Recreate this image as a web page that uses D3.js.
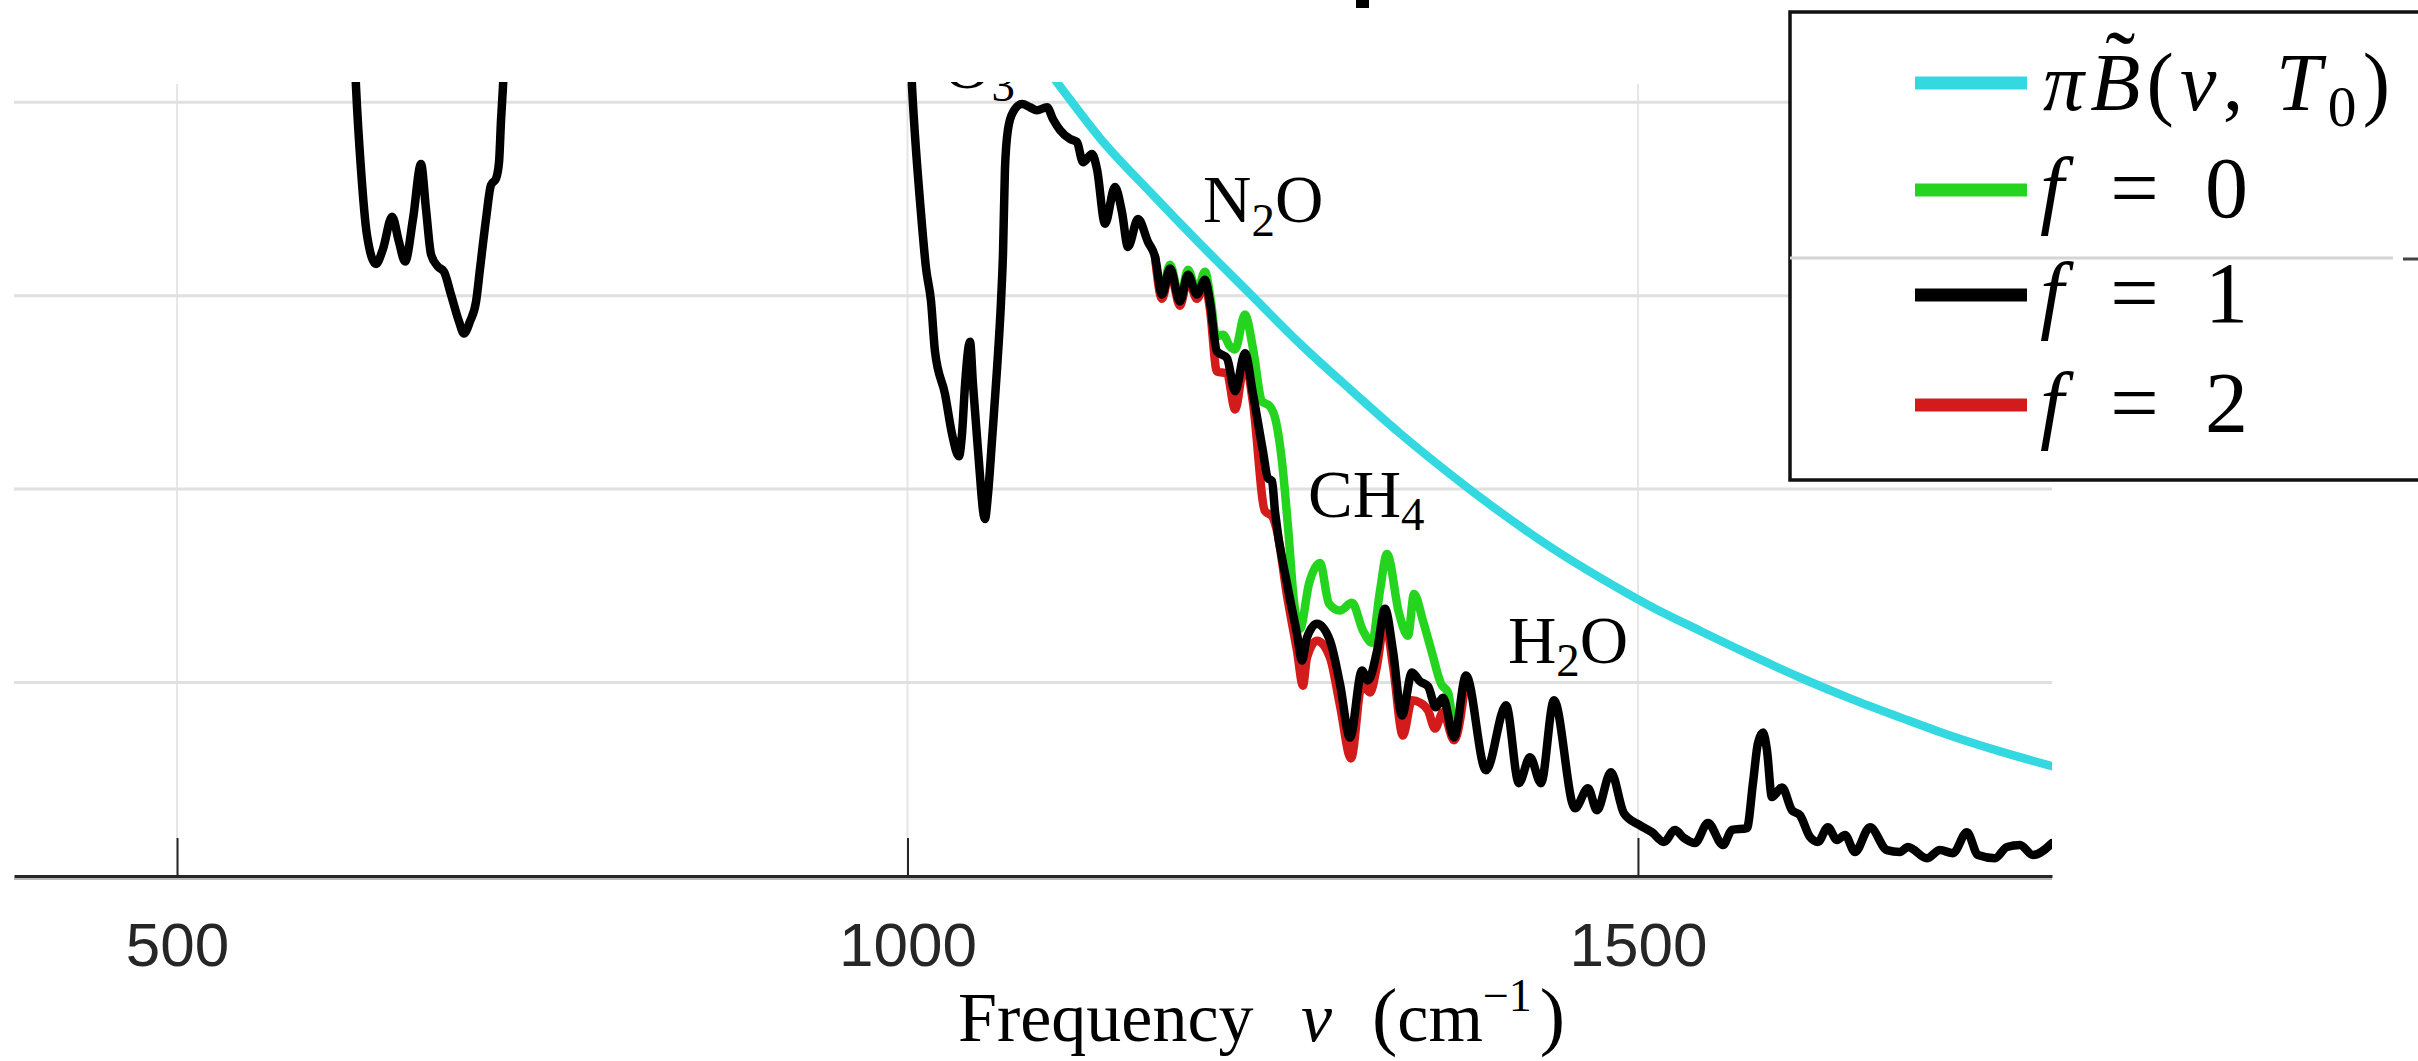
<!DOCTYPE html>
<html>
<head>
<meta charset="utf-8">
<script src="https://cdn.jsdelivr.net/npm/d3@7"></script>
<style>
  html, body { margin: 0; padding: 0; background: #fff; }
  svg { display: block; }
</style>
</head>
<body>
<svg id="chart" width="2418" height="1061"></svg>
<script>
// Outgoing spectral flux, [wavenumber (cm^-1), flux] pairs.
// Values above the top of the axes are drawn and clipped.
const planckT0 = [
  [1077.0,0.218],[1104.4,0.2041],[1131.8,0.1907],[1166.0,0.1768],[1200.2,0.1634],
  [1234.4,0.1505],[1268.6,0.1376],[1302.9,0.1258],[1337.1,0.1144],[1371.3,0.1039],
  [1405.5,0.0941],[1439.8,0.0851],[1474.0,0.0771],[1508.2,0.0698],[1542.4,0.0634],
  [1576.7,0.0572],[1610.9,0.0513],[1645.1,0.0459],[1679.3,0.0410],[1713.5,0.0363],
  [1747.8,0.0322],[1783.4,0.0284]
];

const fluxF1 = [
  [388.4,0.230],[619.8,0.230],[622.5,0.204],[625.9,0.1827],[630.0,0.1657],[636.2,0.1582],
  [641.0,0.1621],[647.2,0.1704],[651.9,0.1639],[656.1,0.1588],[661.5,0.1698],[667.0,0.1840],
  [670.4,0.1724],[673.9,0.1606],[678.6,0.1575],[682.7,0.1562],[687.5,0.1503],[693.0,0.1433],
  [696.4,0.1402],[700.5,0.1433],[704.7,0.1485],[707.4,0.1570],[711.5,0.1698],[714.9,0.1786],
  [718.3,0.1802],[720.4,0.1845],[721.8,0.1956],[723.1,0.204],[725.9,0.230],
  [1000.3,0.230],[1003.1,0.204],[1005.1,0.1915],[1008.6,0.1742],[1012.7,0.1570],[1016.1,0.1485],
  [1018.8,0.1356],[1025.7,0.1245],[1030.5,0.1142],[1035.2,0.1085],[1037.3,0.1142],[1039.4,0.1271],
  [1042.8,0.1381],[1044.8,0.1271],[1048.3,0.1098],[1053.0,0.0923],[1055.1,0.0987],[1057.8,0.1124],
  [1061.3,0.1312],[1064.0,0.1485],[1065.4,0.1613],[1066.7,0.1827],[1068.8,0.1930],[1072.2,0.1974],
  [1078.4,0.1995],[1083.8,0.1987],[1088.6,0.1979],[1095.5,0.1987],[1099.6,0.1956],[1104.4,0.1928],
  [1111.2,0.1905],[1116.0,0.1897],[1120.1,0.1845],[1126.3,0.1866],[1129.7,0.1827],[1135.2,0.1686],
  [1142.0,0.1781],[1146.8,0.1716],[1150.9,0.1626],[1157.8,0.1698],[1164.6,0.1639],[1169.4,0.1601],
  [1174.2,0.1503],[1179.7,0.1570],[1186.5,0.1485],[1192.0,0.1554],[1198.1,0.1503],[1203.6,0.1541],
  [1207.0,0.1485],[1211.8,0.1356],[1218.7,0.1338],[1224.2,0.1253],[1231.0,0.1351],[1236.5,0.1245],
  [1243.3,0.1098],[1246.7,0.1028],[1249.5,0.1021],[1251.5,0.0943],[1259.8,0.0755],[1266.6,0.0626],
  [1270.0,0.0557],[1273.4,0.0616],[1280.3,0.0652],[1289.2,0.0608],[1296.0,0.0497],[1302.9,0.0358],
  [1311.1,0.0531],[1315.2,0.0505],[1321.4,0.0582],[1326.8,0.0691],[1332.3,0.0582],[1338.5,0.0415],
  [1345.3,0.0526],[1350.8,0.0503],[1356.3,0.0490],[1361.7,0.0436],[1366.5,0.0461],[1374.1,0.0358],
  [1382.3,0.0518],[1396.0,0.0273],[1409.7,0.0441],[1418.5,0.0240],[1426.1,0.0307],[1433.6,0.0240],
  [1442.5,0.0454],[1456.9,0.0175],[1465.8,0.0227],[1471.9,0.0170],[1481.5,0.0268],[1490.4,0.0162],
  [1501.4,0.0131],[1509.6,0.0113],[1517.8,0.0088],[1525.3,0.0119],[1531.5,0.0098],[1539.0,0.0085],
  [1547.9,0.0137],[1558.2,0.0080],[1564.3,0.0119],[1574.6,0.0124],[1578.7,0.0240],[1582.1,0.0343],
  [1585.6,0.0371],[1588.3,0.0325],[1591.7,0.0204],[1598.6,0.0229],[1605.4,0.0170],[1610.9,0.0157],
  [1617.7,0.0101],[1623.2,0.0088],[1630.0,0.0126],[1636.2,0.0093],[1641.7,0.0106],[1648.5,0.0062],
  [1658.8,0.0126],[1670.4,0.0067],[1679.3,0.0062],[1684.8,0.0075],[1697.8,0.0046],[1706.7,0.0067],
  [1715.6,0.0059],[1725.2,0.0113],[1732.7,0.0054],[1744.3,0.0046],[1752.6,0.0075],[1761.5,0.0080],
  [1770.4,0.0054],[1783.4,0.0085]
];

// f = 0 and f = 2 only separate from f = 1 across the N2O / CH4 bands
const fluxF0 = [
  [1169.4,0.1601],[1174.2,0.1510],[1179.7,0.1580],[1186.5,0.1492],[1192.0,0.1567],[1198.1,0.1510],
  [1203.6,0.1562],[1207.7,0.1485],[1211.2,0.1394],[1216.0,0.1399],[1220.7,0.1369],[1224.2,0.1361],
  [1231.0,0.1451],[1236.5,0.1363],[1242.6,0.1227],[1248.1,0.1214],[1252.2,0.1175],[1256.3,0.1072],
  [1260.4,0.0905],[1264.5,0.0711],[1268.7,0.0639],[1274.8,0.0755],[1282.3,0.0809],[1288.5,0.0704],
  [1296.0,0.0686],[1304.2,0.0706],[1311.8,0.0634],[1317.9,0.0603],[1323.4,0.0737],[1328.2,0.0832],
  [1336.4,0.0680],[1342.6,0.0621],[1346.7,0.0729],[1352.8,0.0660],[1359.0,0.0577],[1365.2,0.0497],
  [1370.0,0.0474],[1374.1,0.0358]
];

const fluxF2 = [
  [1169.4,0.1601],[1174.2,0.1492],[1179.7,0.1562],[1186.5,0.1474],[1192.0,0.1544],[1198.1,0.1492],
  [1203.6,0.1528],[1207.0,0.1466],[1211.8,0.1304],[1218.7,0.1299],[1224.2,0.1206],[1231.0,0.1330],
  [1236.5,0.1222],[1244.7,0.0943],[1249.5,0.0930],[1252.9,0.0892],[1259.8,0.0724],[1266.6,0.0582],
  [1270.7,0.0492],[1273.4,0.0564],[1280.3,0.0608],[1289.2,0.0564],[1296.0,0.0441],[1303.6,0.0304],
  [1311.1,0.0497],[1316.6,0.0474],[1321.4,0.0544],[1326.8,0.0660],[1332.3,0.0544],[1339.1,0.0363],
  [1345.3,0.0454],[1350.8,0.0448],[1356.3,0.0428],[1361.1,0.0381],[1366.5,0.0423],[1374.1,0.0351],
  [1382.3,0.0513]
];

const xTicks = [500, 1000, 1500];
const yGrid = [0.05, 0.10, 0.15, 0.20];
const bandNames = ["O₃", "N₂O", "CH₄", "H₂O"];
const legendLabels = ["πB̃(ν, T₀)", "f = 0", "f = 1", "f = 2"];

// ---- layout & style ----
const W = 2418, H = 1061;
const COLORS = { planck: "#33d8e0", f0: "#25d41e", f1: "#000000", f2: "#d41b1b" };
const SERIF = "'Liberation Serif', 'Times New Roman', serif";
const SANS = "'Liberation Sans', Arial, Helvetica, sans-serif";
const LINE_W = 8.5;

const svg = d3.select("#chart");
svg.append("rect").attr("width", W).attr("height", H).attr("fill", "#fff");

const x = d3.scaleLinear().domain([388.4, 1783.4]).range([14, 2052]);
const y = d3.scaleLinear().domain([0, 0.2047]).range([876, 84]);

svg.append("defs").append("clipPath").attr("id", "plotClip")
  .append("rect").attr("x", 14).attr("y", 82).attr("width", 2038).attr("height", 800);

// grid
const grid = svg.append("g");
grid.selectAll("line.vgrid").data(xTicks).join("line").attr("class", "vgrid")
  .attr("x1", d => x(d)).attr("x2", d => x(d))
  .attr("y1", 84).attr("y2", y(0))
  .attr("stroke", "#e6e6e6").attr("stroke-width", 2);
grid.selectAll("line.hgrid").data(yGrid).join("line").attr("class", "hgrid")
  .attr("x1", x.range()[0]).attr("x2", x.range()[1])
  .attr("y1", d => y(d)).attr("y2", d => y(d))
  .attr("stroke", "#e0e0e0").attr("stroke-width", 3);

// x axis with inward ticks
const xAxis = d3.axisBottom(x).tickValues(xTicks).tickSizeInner(-38).tickSizeOuter(0)
  .tickFormat(d3.format("d"));
const gx = svg.append("g").attr("transform", `translate(0,${y(0)})`).call(xAxis);
gx.select(".domain").attr("stroke", "#262626").attr("stroke-width", 3);
gx.selectAll(".tick line").attr("stroke", "#262626").attr("stroke-width", 2);
gx.selectAll(".tick text")
  .attr("y", 90).attr("dy", 0)
  .attr("font-family", SANS).attr("font-size", 62).attr("fill", "#262626");
svg.append("line").attr("x1", x.range()[0]).attr("x2", x.range()[1])
  .attr("y1", y(0) + 3).attr("y2", y(0) + 3)
  .attr("stroke", "#b8b8b8").attr("stroke-width", 2);

// spectra
const line = d3.line().x(d => x(d[0])).y(d => y(d[1])).curve(d3.curveMonotoneX);
const plot = svg.append("g").attr("clip-path", "url(#plotClip)");
[[planckT0, COLORS.planck], [fluxF0, COLORS.f0], [fluxF2, COLORS.f2], [fluxF1, COLORS.f1]]
  .forEach(([data, color]) => {
    plot.append("path").datum(data).attr("d", line)
      .attr("fill", "none").attr("stroke", color).attr("stroke-width", LINE_W)
      .attr("stroke-linejoin", "round").attr("stroke-linecap", "round");
  });

// rich text: subscripts, superscripts, italic math letters
const SUB = { "₀": "0", "₁": "1", "₂": "2", "₃": "3", "₄": "4" };
const SUP = { "⁻": "−", "¹": "1" };
function rich(textSel, str, size, isItalic) {
  const runs = [];
  for (const ch of str) {
    if (ch === "\u0303") continue;
    let kind = "n", t = ch;
    if (SUB[ch]) { kind = "sub"; t = SUB[ch]; }
    else if (SUP[ch]) { kind = "sup"; t = SUP[ch]; }
    const it = isItalic(ch);
    const last = runs[runs.length - 1];
    if (last && last.kind === kind && last.it === it) last.t += t;
    else runs.push({ kind, it, t });
  }
  let shift = 0;
  runs.forEach(r => {
    const target = r.kind === "sub" ? 0.2 * size : r.kind === "sup" ? -0.42 * size : 0;
    textSel.append("tspan")
      .attr("dy", target - shift)
      .attr("font-size", r.kind === "n" ? size : size * 0.7)
      .attr("font-style", r.it ? "italic" : "normal")
      .text(r.t);
    shift = target;
  });
}

// band annotations
const bandAnchors = [[1024.3, 0.2037], [1202.3, 0.1690], [1274.1, 0.0928], [1411.0, 0.0551]];
bandNames.forEach((name, i) => {
  const t = plot.append("text")
    .attr("x", x(bandAnchors[i][0])).attr("y", y(bandAnchors[i][1]))
    .attr("font-family", SERIF).attr("font-size", 67).attr("fill", "#000");
  rich(t, name, 67, () => false);
});

// x label
const xl = svg.append("text").attr("x", 958).attr("y", 1041)
  .attr("font-family", SERIF).attr("font-size", 70).attr("fill", "#000");
xl.append("tspan").text("Frequency ");
xl.append("tspan").attr("font-style", "italic").attr("dx", 30).text("ν");
xl.append("tspan").attr("font-size", 76).attr("dx", 40).text("(");
xl.append("tspan").text("cm");
xl.append("tspan").attr("font-size", 46).attr("dy", -30).text("−1");
xl.append("tspan").attr("font-size", 76).attr("dx", 8).attr("dy", 30).text(")");

// legend
const lg = svg.append("g");
lg.append("rect").attr("x", 1790).attr("y", 12).attr("width", 800).attr("height", 468)
  .attr("fill", "#fff").attr("stroke", "#111").attr("stroke-width", 3.5);
const legendColors = [COLORS.planck, COLORS.f0, COLORS.f1, COLORS.f2];
const legendRowY = [110, 217, 322, 432];
legendLabels.forEach((lab, i) => {
  lg.append("line").attr("x1", 1915).attr("x2", 2027)
    .attr("y1", legendRowY[i] - 27).attr("y2", legendRowY[i] - 27)
    .attr("stroke", legendColors[i]).attr("stroke-width", 13);
  const size = i === 0 ? 82 : 86;
  const t = lg.append("text").attr("x", i === 0 ? 2043 : 2040).attr("y", legendRowY[i])
    .attr("font-family", SERIF).attr("font-size", size).attr("fill", "#000")
    .attr("textLength", i === 0 ? 347 : 208).attr("lengthAdjust", "spacing");
  rich(t, lab, size, ch => /[A-Za-zπν]/.test(ch));
  if (lab.includes("\u0303")) {
    const idx = [...lab.replace("\u0303", "")].indexOf("B");
    const ext = t.node().getExtentOfChar(idx);
    lg.append("text")
      .attr("x", ext.x + ext.width / 2 + 5).attr("y", legendRowY[i] - 0.2 * size)
      .attr("text-anchor", "middle").attr("font-family", SERIF).attr("font-size", size * 1.1)
      .text("˜");
  }
});

// neighbouring axes showing through at the right
svg.append("line").attr("x1", 1790).attr("x2", 2393).attr("y1", 258).attr("y2", 258)
  .attr("stroke", "#d4d4d4").attr("stroke-width", 3);
svg.append("line").attr("x1", 2403).attr("x2", 2418).attr("y1", 259).attr("y2", 259)
  .attr("stroke", "#444").attr("stroke-width", 3);
svg.append("rect").attr("x", 1356).attr("y", 0).attr("width", 13).attr("height", 8).attr("fill", "#000");
</script>
</body>
</html>
